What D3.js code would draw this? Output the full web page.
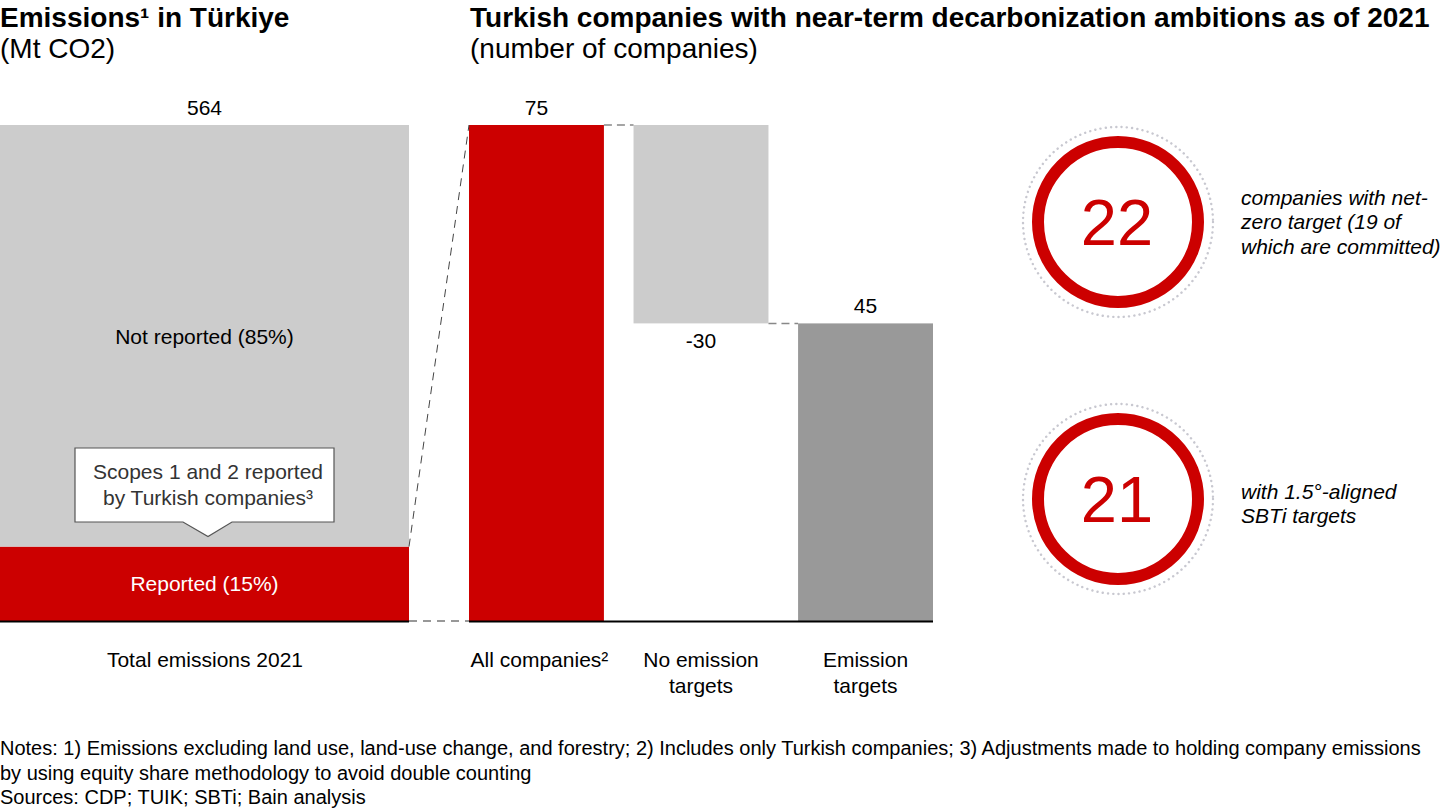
<!DOCTYPE html>
<html lang="en">
<head>
  <meta charset="UTF-8">
  <title>Emissions and decarbonization ambitions in Türkiye</title>
  <script src="https://d3js.org/d3.v7.min.js"></script>
  <style>
    body { margin: 0; background: #fff; }
    svg { font-family: "Liberation Sans", Arial, sans-serif; }
  </style>
</head>
<body>
  <svg width="1440" height="810"></svg>

  <script>
    // Left chart: total emissions split
    const totalCategory = ["Total emissions 2021"];
    const emissionTotal = [564];
    const segmentLabels = ["Reported (15%)", "Not reported (85%)"];
    const segmentValues = [84.6, 479.4];

    // Waterfall: companies
    const wfCategories = ["All companies²", "No emission targets", "Emission targets"];
    const wfValues = [75, -30, 45];

    // Circles on the right
    const circleValues = [22, 21];
    const circleTexts = [
      ["companies with net-", "zero target (19 of", "which are committed)"],
      ["with 1.5°-aligned", "SBTi targets"]
    ];

    const notes = [
      "Notes: 1) Emissions excluding land use, land-use change, and forestry; 2) Includes only Turkish companies; 3) Adjustments made to holding company emissions",
      "by using equity share methodology to avoid double counting",
      "Sources: CDP; TUIK; SBTi; Bain analysis"
    ];

    const red = "#cc0000";
    const baseY = 621, topY = 125;
    const fs = "21px";
    const svg = d3.select("svg");

    // titles
    svg.append("text").attr("x", 0).attr("y", 27)
      .style("font-size", "28px").style("font-weight", "bold")
      .text("Emissions¹ in Türkiye");
    svg.append("text").attr("x", 0).attr("y", 58).style("font-size", "28px").text("(Mt CO2)");

    svg.append("text").attr("x", 470).attr("y", 27)
      .style("font-size", "28px").style("font-weight", "bold")
      .text("Turkish companies with near-term decarbonization ambitions as of 2021");
    svg.append("text").attr("x", 470).attr("y", 58).style("font-size", "28px").text("(number of companies)");

    // ---------- left stacked bar ----------
    const xL = d3.scaleBand().domain(totalCategory).range([0, 409]).padding(0);
    const yL = d3.scaleLinear().domain([0, emissionTotal[0]]).range([baseY, topY]);

    let acc = 0;
    const segs = segmentValues.map((v, i) => {
      const s = { label: segmentLabels[i], y0: acc, y1: acc + v };
      acc += v;
      return s;
    });

    svg.selectAll(".seg")
      .data(segs)
      .enter().append("rect")
      .attr("class", "seg")
      .attr("x", xL(totalCategory[0]))
      .attr("width", xL.bandwidth())
      .attr("y", d => yL(d.y1))
      .attr("height", d => yL(d.y0) - yL(d.y1))
      .attr("fill", (d, i) => i === 0 ? red : "#cccccc");

    svg.selectAll(".segLabel")
      .data(segs)
      .enter().append("text")
      .attr("class", "segLabel")
      .attr("x", xL(totalCategory[0]) + xL.bandwidth() / 2)
      .attr("y", (d, i) => i === 0 ? (yL(d.y0) + yL(d.y1)) / 2 + 7.5 : 343.5)
      .attr("text-anchor", "middle")
      .style("font-size", fs)
      .style("fill", (d, i) => i === 0 ? "#fff" : "#000")
      .text(d => d.label);

    svg.append("text")
      .attr("x", xL(totalCategory[0]) + xL.bandwidth() / 2)
      .attr("y", yL(emissionTotal[0]) - 10)
      .attr("text-anchor", "middle")
      .style("font-size", fs)
      .text(emissionTotal[0]);

    // callout box
    const cx = 205, tipY = yL(segs[0].y1) - 10;
    const bx0 = 75, bx1 = 334, by0 = 448, by1 = 522;
    svg.append("path")
      .attr("d", `M${bx0},${by0}H${bx1}V${by1}H${cx + 27}L${cx + 3},${tipY}L${cx - 22},${by1}H${bx0}Z`)
      .attr("fill", "#fff").attr("stroke", "#555").attr("stroke-width", 1.2);
    svg.append("text").attr("x", cx + 3).attr("y", 478.5).attr("text-anchor", "middle")
      .style("font-size", fs).style("fill", "#333").text("Scopes 1 and 2 reported");
    svg.append("text").attr("x", cx + 3).attr("y", 504.5).attr("text-anchor", "middle")
      .style("font-size", fs).style("fill", "#333").text("by Turkish companies³");

    // ---------- waterfall ----------
    const x = d3.scaleBand().domain(wfCategories).range([469, 933]).paddingInner(0.18).paddingOuter(0);
    const y = d3.scaleLinear().domain([0, 75]).range([baseY, topY]);

    let run = 0;
    const wf = wfValues.map((v, i) => {
      let s;
      if (i === 0) { s = { y0: 0, y1: v }; run = v; }
      else if (i === wfValues.length - 1) { s = { y0: 0, y1: v }; }
      else { s = { y0: run + v, y1: run }; run += v; }
      return Object.assign(s, { cat: wfCategories[i], v: v });
    });
    const wfColors = [red, "#cccccc", "#999999"];

    svg.selectAll(".wf")
      .data(wf)
      .enter().append("rect")
      .attr("class", "wf")
      .attr("x", d => x(d.cat))
      .attr("width", x.bandwidth())
      .attr("y", d => y(d.y1))
      .attr("height", d => y(d.y0) - y(d.y1))
      .attr("fill", (d, i) => wfColors[i]);

    svg.selectAll(".wfLabel")
      .data(wf)
      .enter().append("text")
      .attr("class", "wfLabel")
      .attr("x", d => x(d.cat) + x.bandwidth() / 2)
      .attr("y", d => d.v < 0 ? y(d.y0) + 25 : y(d.y1) - 10)
      .attr("text-anchor", "middle")
      .style("font-size", fs)
      .text(d => d.v);

    // dashed connectors between waterfall bars
    for (let i = 0; i < wf.length - 1; i++) {
      const level = wf[i].v < 0 ? wf[i].y0 : wf[i].y1;
      svg.append("line")
        .attr("x1", x(wf[i].cat) + x.bandwidth()).attr("x2", x(wf[i + 1].cat))
        .attr("y1", y(level)).attr("y2", y(level))
        .attr("stroke", "#888").attr("stroke-width", 1.5).attr("stroke-dasharray", "8,5");
    }

    // dashed zoom lines from left bar to waterfall
    svg.append("line")
      .attr("x1", 409).attr("y1", yL(segs[0].y1))
      .attr("x2", 469).attr("y2", y(75))
      .attr("stroke", "#444").attr("stroke-width", 1).attr("stroke-dasharray", "8,6");
    svg.append("line")
      .attr("x1", 409).attr("y1", baseY)
      .attr("x2", 469).attr("y2", baseY)
      .attr("stroke", "#777").attr("stroke-width", 1.5).attr("stroke-dasharray", "8,6");

    // baselines
    svg.append("line").attr("x1", 0).attr("x2", 409).attr("y1", baseY + 0.5).attr("y2", baseY + 0.5)
      .attr("stroke", "#000").attr("stroke-width", 2);
    svg.append("line").attr("x1", 469).attr("x2", 933).attr("y1", baseY + 0.5).attr("y2", baseY + 0.5)
      .attr("stroke", "#000").attr("stroke-width", 2);

    // category labels
    svg.append("text").attr("x", 205).attr("y", 666.5).attr("text-anchor", "middle")
      .style("font-size", fs).text(totalCategory[0]);

    const catLines = { "All companies²": ["All companies²"], "No emission targets": ["No emission", "targets"], "Emission targets": ["Emission", "targets"] };
    wfCategories.forEach(c => {
      const t = svg.append("text").attr("text-anchor", "middle").style("font-size", fs);
      catLines[c].forEach((ln, j) => {
        t.append("tspan").attr("x", x(c) + x.bandwidth() / 2 + (c === wfCategories[0] ? 3 : 0))
          .attr("y", 666.5 + j * 26).text(ln);
      });
    });

    // ---------- circles ----------
    const cy = d3.scaleOrdinal().domain(circleValues).range([222, 499]);
    const textStart = [-17.5, -0.5];
    const ccx = 1118;
    circleValues.forEach((v, i) => {
      const g = svg.append("g").attr("transform", `translate(${ccx},${cy(v)})`);
      g.append("circle").attr("r", 95).attr("fill", "none")
        .attr("stroke", "#c8c8d0").attr("stroke-width", 2.4)
        .attr("stroke-linecap", "round").attr("stroke-dasharray", "0.1,5.2");
      g.append("circle").attr("r", 80).attr("fill", "#fff")
        .attr("stroke", red).attr("stroke-width", 12);
      g.append("text").attr("text-anchor", "middle").attr("y", 23).attr("x", -1)
        .style("font-size", "65px").style("fill", red).text(v);

      const lines = circleTexts[i];
      const t = svg.append("text").style("font-size", fs).style("font-style", "italic");
      lines.forEach((ln, j) => {
        t.append("tspan").attr("x", 1241).attr("y", cy(v) + textStart[i] + j * 24.5).text(ln);
      });
    });

    // notes
    svg.selectAll(".note")
      .data(notes)
      .enter().append("text")
      .attr("class", "note")
      .attr("x", 0)
      .attr("y", (d, i) => 755 + i * 24.5)
      .style("font-size", "20px")
      .text(d => d);
  </script>
</body>
</html>
